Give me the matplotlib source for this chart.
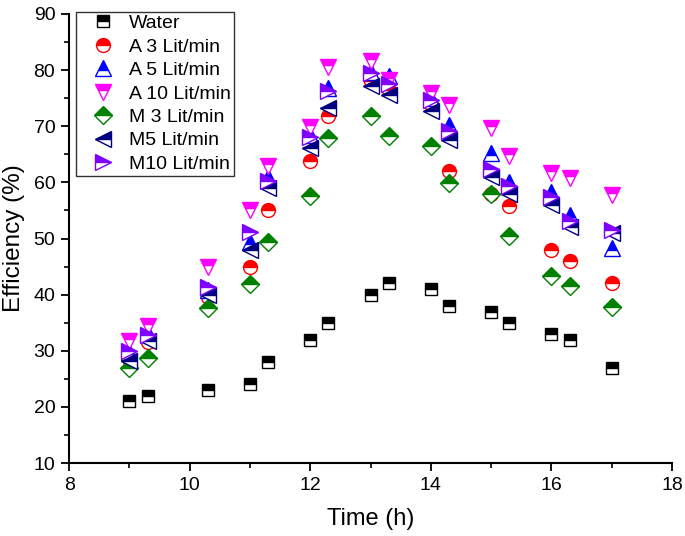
import matplotlib
matplotlib.use("Agg")
import matplotlib.pyplot as plt
from matplotlib.ticker import MultipleLocator

plt.rcParams['font.family'] = ['Liberation Sans', 'DejaVu Sans']

time_h = [9, 9.3, 10.3, 11, 11.3, 12, 12.3, 13, 13.3, 14, 14.3, 15, 15.3, 16, 16.3, 17]
water = [21, 22, 23, 24, 28, 32, 35, 40, 42, 41, 38, 37, 35, 33, 32, 27]
a3 = [28.5, 31.6, 39.6, 45, 55, 63.8, 71.8, 78, 76.5, 74, 62, 58, 55.8, 48, 46, 42]
a5 = [29.8, 33.1, 40.8, 49.4, 61, 68.5, 76.8, 79.7, 79, 75, 70.2, 65.2, 60.1, 58.2, 54.2, 48.3]
a10 = [31.8, 34.4, 44.9, 55, 63, 69.8, 80.6, 81.7, 78.2, 76, 73.8, 69.6, 64.7, 61.6, 60.7, 57.8]
m3 = [26.9, 28.8, 37.7, 41.9, 49.4, 57.6, 67.9, 71.8, 68.3, 66.5, 59.9, 57.9, 50.4, 43.3, 41.5, 37.8]
m5 = [28.2, 31.8, 39.9, 48, 59, 66.1, 73.2, 77.2, 75.5, 72.8, 67.5, 61, 58, 56, 52.1, 50.9]
m10 = [30.0, 32.8, 41.4, 51.2, 60.3, 68, 76.2, 79.4, 77.5, 74.6, 69.2, 62.3, 59.3, 57.4, 53.2, 51.5]

series = [
    ("Water", water, 's', 'black', 9),
    ("A 3 Lit/min", a3, 'o', 'red', 10),
    ("A 5 Lit/min", a5, '^', 'blue', 12),
    ("A 10 Lit/min", a10, 'v', 'magenta', 12),
    ("M 3 Lit/min", m3, 'D', 'green', 8.7),
    ("M5 Lit/min", m5, '<', 'navy', 12),
    ("M10 Lit/min", m10, '>', '#8000ff', 12),
]

fig = plt.figure(figsize=(6.85, 5.36), dpi=100)
ax = fig.add_axes([0.101, 0.136, 0.880, 0.838])

for label, vals, mk, col, ms in series:
    ax.plot(time_h, vals, linestyle='none', marker=mk, markersize=ms,
            color=col, markeredgecolor=col, markerfacecolor=col,
            markerfacecoloralt='white', fillstyle='top',
            markeredgewidth=1.0, label=label)

ax.set_xlim(8, 18)
ax.set_ylim(10, 90)
ax.xaxis.set_major_locator(MultipleLocator(2))
ax.xaxis.set_minor_locator(MultipleLocator(1))
ax.yaxis.set_major_locator(MultipleLocator(10))
ax.yaxis.set_minor_locator(MultipleLocator(5))

for s in ['top', 'right']:
    ax.spines[s].set_visible(False)
for s in ['left', 'bottom']:
    ax.spines[s].set_linewidth(1.5)

ax.tick_params(which='major', direction='out', length=6, width=1.3, labelsize=14, pad=4)
ax.tick_params(which='minor', direction='out', length=3.5, width=1.2)

ax.set_xlabel("Time (h)", fontsize=17, labelpad=10)
ax.set_ylabel("Efficiency (%)", fontsize=17.5, labelpad=6)

leg = ax.legend(loc='upper left', bbox_to_anchor=(0.012, 1.005), borderaxespad=0,
                fontsize=14, frameon=True, fancybox=False, edgecolor='black',
                labelspacing=0.3, handletextpad=0.15, handlelength=2.4,
                borderpad=0.15, numpoints=1)
leg.get_frame().set_linewidth(1.0)

fig.savefig("out.png", dpi=100)
